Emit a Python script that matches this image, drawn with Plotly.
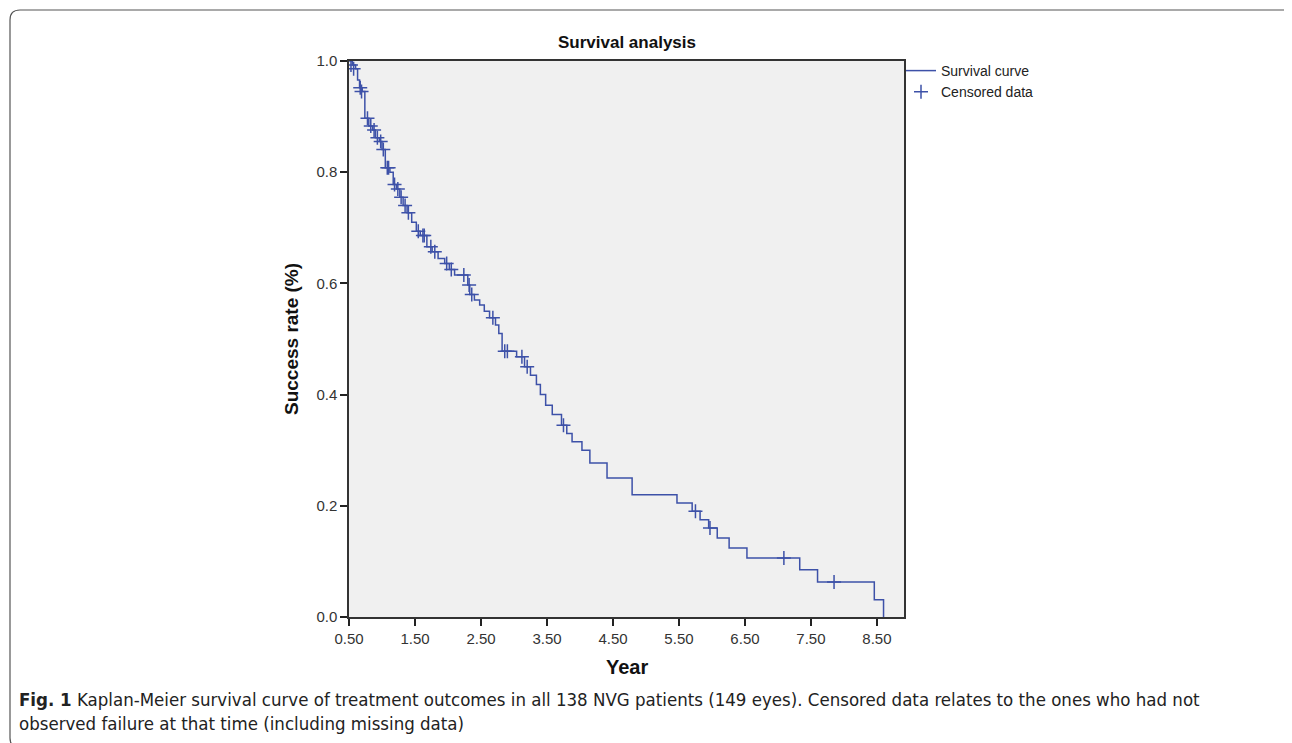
import plotly.graph_objects as go

# Kaplan-Meier step data: event times (years) and survival after each event
event_times = [0.50, 0.55, 0.60, 0.63, 0.66, 0.70, 0.74, 0.80, 0.86, 0.90, 0.96, 1.00, 1.05, 1.12,
               1.17, 1.22, 1.27, 1.32, 1.38, 1.45, 1.52, 1.58, 1.68, 1.76, 1.85, 1.95, 2.02,
               2.10, 2.30, 2.33, 2.40, 2.48, 2.55, 2.63, 2.72, 2.77, 2.82, 3.04, 3.16, 3.25,
               3.34, 3.40, 3.48, 3.58, 3.72, 3.80, 3.88, 4.03, 4.15, 4.41, 4.79, 5.47, 5.70,
               5.82, 5.95, 6.08, 6.26, 6.53, 7.33, 7.60, 8.46, 8.60]
survival = [1.000, 0.993, 0.986, 0.966, 0.952, 0.945, 0.897, 0.883, 0.876, 0.862, 0.855, 0.841,
            0.808, 0.800, 0.778, 0.770, 0.755, 0.740, 0.727, 0.710, 0.694, 0.686, 0.666, 0.657,
            0.645, 0.636, 0.625, 0.615, 0.597, 0.580, 0.570, 0.561, 0.550, 0.538, 0.525, 0.510,
            0.478, 0.468, 0.450, 0.435, 0.418, 0.400, 0.381, 0.364, 0.345, 0.330, 0.315, 0.300,
            0.277, 0.250, 0.220, 0.205, 0.190, 0.175, 0.160, 0.142, 0.124, 0.106, 0.085, 0.063,
            0.031, 0.000]

# Censored observations
censor_times = [0.53, 0.57, 0.67, 0.69, 0.78, 0.83, 0.88, 0.93, 0.98, 1.02, 1.08, 1.10, 1.19,
                1.24, 1.29, 1.35, 1.40, 1.55, 1.62, 1.64, 1.74, 1.80, 1.98, 2.05, 2.24, 2.32,
                2.36, 2.68, 2.86, 2.90, 3.12, 3.20, 3.75, 5.75, 5.97, 7.09, 7.85]
censor_surv = [0.993, 0.986, 0.952, 0.945, 0.897, 0.883, 0.876, 0.862, 0.855, 0.841, 0.808, 0.808,
               0.778, 0.770, 0.755, 0.740, 0.727, 0.694, 0.686, 0.686, 0.666, 0.657, 0.636, 0.625,
               0.615, 0.597, 0.580, 0.538, 0.478, 0.478, 0.468, 0.450, 0.345, 0.190, 0.160, 0.106,
               0.063]

x_ticks = [0.5, 1.5, 2.5, 3.5, 4.5, 5.5, 6.5, 7.5, 8.5]
x_tick_labels = ["0.50", "1.50", "2.50", "3.50", "4.50", "5.50", "6.50", "7.50", "8.50"]
y_ticks = [0.0, 0.2, 0.4, 0.6, 0.8, 1.0]
y_tick_labels = ["0.0", "0.2", "0.4", "0.6", "0.8", "1.0"]

LINE = "#3d51a8"
FONT = "Liberation Sans"
CAP = "DejaVu Sans Condensed, Liberation Sans Narrow, sans-serif"

W, H = 1292, 743
L, R, T, B = 341, 396, 53, 134
PW, PH = W - L - R, H - T - B


def px(xp):
    return (xp - L) / PW


def py(yp):
    return (H - B - yp) / PH


fig = go.Figure()
fig.add_trace(go.Scatter(x=event_times, y=survival, mode="lines", line_shape="hv",
                         line=dict(color=LINE, width=1.5), name="Survival curve"))
fig.add_trace(go.Scatter(x=censor_times, y=censor_surv, mode="markers", name="Censored data",
                         marker=dict(symbol="cross-thin", size=10, color=LINE,
                                     line=dict(color=LINE, width=1.5))))

fig.update_layout(
    width=W, height=H,
    margin=dict(l=L, r=R, t=T, b=B),
    paper_bgcolor="white", plot_bgcolor="#f0f0f0",
    font=dict(family=FONT, color="#222222", size=15),
    showlegend=True,
    legend=dict(x=px(893), y=py(47), xanchor="left", yanchor="top", bgcolor="rgba(0,0,0,0)",
                font=dict(size=14, family=FONT, color="#222"), tracegroupgap=0, itemwidth=30),
    xaxis=dict(range=[0.5, 8.91], tickvals=x_ticks, ticktext=x_tick_labels,
               ticks="outside", ticklen=7, tickwidth=1.5, tickcolor="#222",
               showline=True, linecolor="#333", linewidth=1.5, mirror=True,
               showgrid=False, zeroline=False, tickfont=dict(size=15, color="#333")),
    yaxis=dict(range=[0, 1.0], tickvals=y_ticks, ticktext=y_tick_labels,
               ticks="outside", ticklen=7, tickwidth=1.5, tickcolor="#222",
               showline=True, linecolor="#333", linewidth=1.5, mirror=True,
               showgrid=False, zeroline=False, tickfont=dict(size=15, color="#333")),
)

# Titles
fig.add_annotation(text="<b>Survival analysis</b>", xref="paper", yref="paper", x=0.5, y=py(35),
                   yanchor="middle", showarrow=False, font=dict(size=17, family=FONT, color="#111"))
fig.add_annotation(text="<b>Year</b>", xref="paper", yref="paper", x=0.5, y=py(659),
                   yanchor="middle", showarrow=False, font=dict(size=20, family=FONT, color="#111"))
fig.add_annotation(text="<b>Success rate (%)</b>", xref="paper", yref="paper", x=px(283), y=0.5,
                   xanchor="center", textangle=-90, showarrow=False,
                   font=dict(size=19, family=FONT, color="#111"))

# Caption
fig.add_annotation(text="<b>Fig. 1</b> Kaplan-Meier survival curve of treatment outcomes in all 138 NVG patients (149 eyes). Censored data relates to the ones who had not",
                   xref="paper", yref="paper", x=px(9), y=py(691), xanchor="left", yanchor="middle",
                   showarrow=False, font=dict(size=18.5, family=CAP, color="#222"))
fig.add_annotation(text="observed failure at that time (including missing data)",
                   xref="paper", yref="paper", x=px(9), y=py(715), xanchor="left", yanchor="middle",
                   showarrow=False, font=dict(size=18.5, family=CAP, color="#222"))

# Outer rounded border of the figure panel
rad = 10
x0, x1, y0, y1 = 2, 1289, 2, 740
path = (f"M {px(x0+rad)},{py(y0)} L {px(x1-rad)},{py(y0)} Q {px(x1)},{py(y0)} {px(x1)},{py(y0+rad)} "
        f"L {px(x1)},{py(y1-rad)} Q {px(x1)},{py(y1)} {px(x1-rad)},{py(y1)} "
        f"L {px(x0+rad)},{py(y1)} Q {px(x0)},{py(y1)} {px(x0)},{py(y1-rad)} "
        f"L {px(x0)},{py(y0+rad)} Q {px(x0)},{py(y0)} {px(x0+rad)},{py(y0)} Z")
fig.add_shape(type="path", xref="paper", yref="paper", path=path,
              line=dict(color="#555", width=1.2), layer="above")

fig.write_html("out.html")
